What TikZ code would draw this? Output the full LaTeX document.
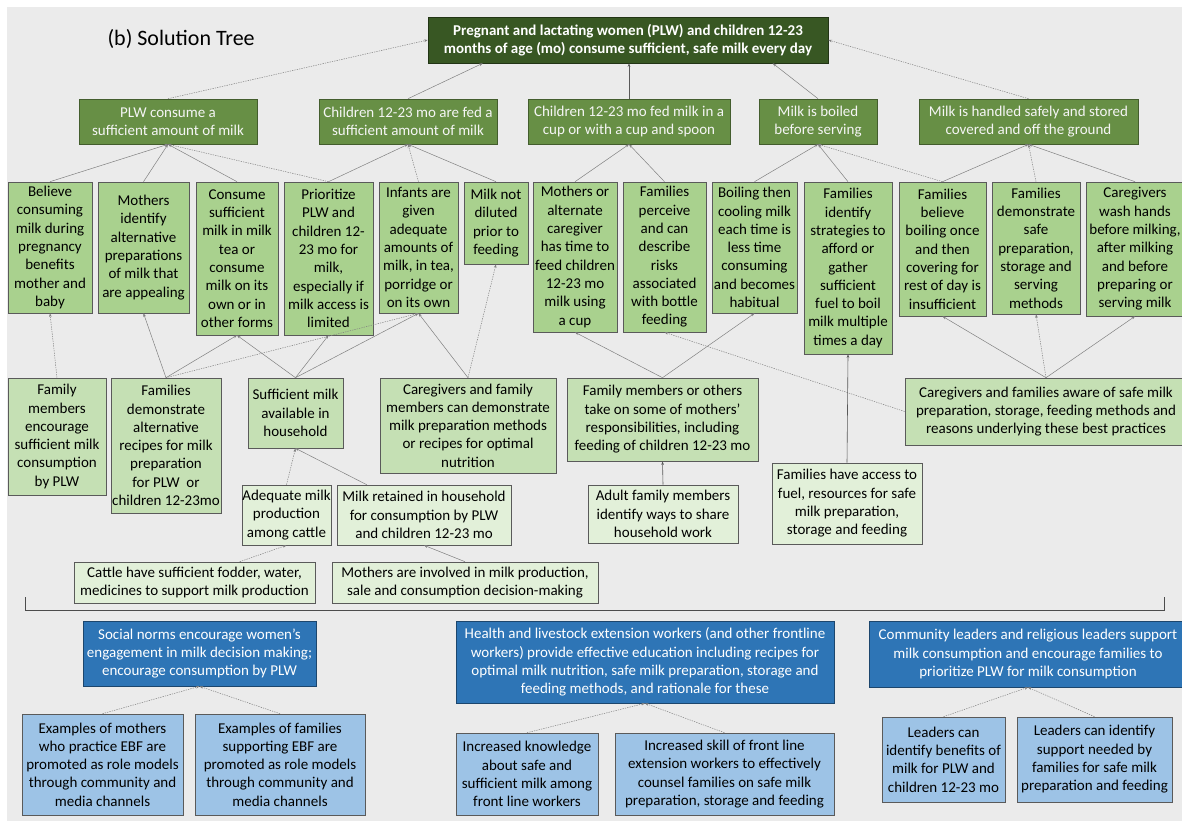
\documentclass[tikz,border=0pt]{standalone}
\usepackage{fontspec}
\setmainfont{Carlito}
\usetikzlibrary{arrows.meta,calc}

\definecolor{bg}{HTML}{EBEBEB}
\definecolor{goal}{HTML}{385723}
\definecolor{lvtwo}{HTML}{678F45}
\definecolor{lvthree}{HTML}{A9D18E}
\definecolor{lvfour}{HTML}{C5E0B4}
\definecolor{lvfive}{HTML}{E2F0D9}
\definecolor{bluedark}{HTML}{2E75B6}
\definecolor{bluelight}{HTML}{9DC3E6}
\definecolor{edge}{HTML}{5A5A5A}
\definecolor{wire}{HTML}{808080}

% box given by its corners (x1,y1)-(x2,y2), y measured downwards
\newcommand\bx[7]{%
  \pgfmathsetmacro\bxw{#4-#2}\pgfmathsetmacro\bxh{#5-#3}%
  \pgfmathsetmacro\bxcx{(#2+#4)/2}\pgfmathsetmacro\bxcy{(#3+#5)/2}%
  \node[#6, minimum width=\bxw pt, minimum height=\bxh pt] (#1) at (\bxcx,\bxcy) {#7};}

\tikzset{
  box/.style={draw=edge, line width=0.6pt, inner sep=0pt, align=center,
    font=\fontsize{15pt}{18.3pt}\selectfont, text=black},
  goalbox/.style={box, fill=goal, draw=goal!60!black, text=white,
    font=\bfseries\fontsize{15pt}{18.3pt}\selectfont},
  outcome/.style={box, fill=lvtwo, draw=lvtwo!65!black, text=white!96!black},
  cause/.style={box, fill=lvthree},
  subcause/.style={box, fill=lvfour},
  rootcause/.style={box, fill=lvfive},
  driver/.style={box, fill=bluedark, draw=bluedark!60!black, text=white},
  support/.style={box, fill=bluelight},
  link/.style={draw=wire, line width=0.5pt, -{Stealth[length=3.6pt,width=2.6pt]}},
  dlink/.style={link, dash pattern=on 1.3pt off 1.1pt},
  slink/.style={link, draw=black!65, line width=0.6pt},
}

\begin{document}
\begin{tikzpicture}[x=1pt,y=-1pt]
\useasboundingbox (0,0) rectangle (1182,821);
\clip (0,0) rectangle (1182,821);
\fill[white] (0,0) rectangle (1182,821);
\fill[bg] (7,7) rectangle (1182,821);

\node[anchor=base west, font=\fontsize{22pt}{26pt}\selectfont] (title) at (104,46) {(b) Solution Tree};

% goal
\bx{top}{428}{17}{828}{63}{goalbox}{Pregnant and lactating women (PLW) and children 12-23\\months of age (mo) consume sufficient, safe milk every day}

% outcomes
\bx{plw}{79}{99}{257}{144}{outcome}{PLW consume a\\sufficient amount of milk}
\bx{chf}{319}{99}{497}{144}{outcome}{Children 12-23 mo are fed a\\sufficient amount of milk}
\bx{chc}{528}{99}{730}{144}{outcome}{Children 12-23 mo fed milk in a\\cup or with a cup and spoon}
\bx{boil}{759}{99}{877}{144}{outcome}{Milk is boiled\\before serving}
\bx{hand}{919}{99}{1138}{144}{outcome}{Milk is handled safely and stored\\covered and off the ground}

% behaviours
\bx{bel}{8}{182}{92}{313}{cause}{Believe\\consuming\\milk during\\pregnancy\\benefits\\mother and\\baby}
\bx{mid}{98}{182}{189}{313}{cause}{Mothers\\identify\\alternative\\preparations\\of milk that\\are appealing}
\bx{con}{196}{182}{278}{335}{cause}{Consume\\sufficient\\milk in milk\\tea or\\consume\\milk on its\\own or in\\other forms}
\bx{pri}{284}{182}{373}{335}{cause}{Prioritize\\PLW and\\children 12-\\23 mo for\\milk,\\especially if\\milk access is\\limited}
\bx{inf}{379}{182}{458}{313}{cause}{Infants are\\given\\adequate\\amounts of\\milk, in tea,\\porridge or\\on its own}
\bx{dil}{464}{182}{528}{264}{cause}{Milk not\\diluted\\prior to\\feeding}
\bx{moa}{533}{182}{617}{332}{cause}{Mothers or\\alternate\\caregiver\\has time to\\feed children\\12-23 mo\\milk using\\a cup}
\bx{per}{623}{182}{706}{332}{cause}{Families\\perceive\\and can\\describe\\risks\\associated\\with bottle\\feeding}
\bx{bct}{712}{182}{797}{313}{cause}{Boiling then\\cooling milk\\each time is\\less time\\consuming\\and becomes\\habitual}
\bx{fid}{804}{182}{892}{354}{cause}{Families\\identify\\strategies to\\afford or\\gather\\sufficient\\fuel to boil\\milk multiple\\times a day}
\bx{fbe}{899}{182}{986}{316}{cause}{Families\\believe\\boiling once\\and then\\covering for\\rest of day is\\insufficient}
\bx{fdm}{992}{182}{1080}{314}{cause}{Families\\demonstrate\\safe\\preparation,\\storage and\\serving\\methods}
\bx{cwh}{1086}{182}{1184}{316}{cause}{Caregivers\\wash hands\\before milking,\\after milking\\and before\\preparing or\\serving milk}

% enabling conditions
\bx{fme}{8}{378}{106}{495}{subcause}{Family\\members\\encourage\\sufficient milk\\consumption\\by PLW}
\bx{fda}{111}{378}{221}{513}{subcause}{Families\\demonstrate\\alternative\\recipes for milk\\preparation\\for PLW~ or\\children 12-23mo}
\bx{suf}{248}{378}{343}{448}{subcause}{Sufficient milk\\available in\\household}
\bx{cgf}{380}{378}{556}{473}{subcause}{Caregivers and family\\members can demonstrate\\milk preparation methods\\or recipes for optimal\\nutrition}
\bx{fmo}{567}{378}{758}{461}{subcause}{Family members or others\\take on some of mothers’\\responsibilities, including\\feeding of children 12-23 mo}
\bx{cga}{905}{378}{1187}{445}{subcause}{Caregivers and families aware of safe milk\\preparation, storage, feeding methods and\\reasons underlying these best practices}

\bx{ade}{242}{485}{331}{545}{rootcause}{Adequate milk\\production\\among cattle}
\bx{mre}{337}{485}{511}{545}{rootcause}{Milk retained in household\\for consumption by PLW\\and children 12-23 mo}
\bx{adu}{588}{485}{738}{543}{rootcause}{Adult family members\\identify ways to share\\household work}
\bx{fac}{772}{463}{922}{544}{rootcause}{Families have access to\\fuel, resources for safe\\milk preparation,\\storage and feeding}
\bx{cat}{74}{562}{315}{603}{rootcause}{Cattle have sufficient fodder, water,\\medicines to support milk production}
\bx{min}{332}{562}{598}{603}{rootcause}{Mothers are involved in milk production,\\sale and consumption decision-making}

% bracket over the green tree
\coordinate (brl) at (25,597);
\coordinate (brr) at (1164,597);
\draw[black!70, line width=0.7pt] (brl) -- ++(0,13) -| (brr);

% structural drivers
\bx{soc}{83}{621}{316}{686}{driver}{Social norms encourage women’s\\engagement in milk decision making;\\encourage consumption by PLW}
\bx{exm}{22}{714}{183}{815}{support}{Examples of mothers\\who practice EBF are\\promoted as role models\\through community and\\media channels}
\bx{exf}{195}{714}{365}{815}{support}{Examples of families\\supporting EBF are\\promoted as role models\\through community and\\media channels}
\bx{hlw}{456}{621}{834}{703}{driver}{Health and livestock extension workers (and other frontline\\workers) provide effective education including recipes for\\optimal milk nutrition, safe milk preparation, storage and\\feeding methods, and rationale for these}
\bx{ikn}{456}{733}{598}{815}{support}{Increased knowledge\\about safe and\\sufficient milk among\\front line workers}
\bx{isk}{615}{733}{834}{815}{support}{Increased skill of front line\\extension workers to effectively\\counsel families on safe milk\\preparation, storage and feeding}
\bx{com}{869}{621}{1187}{687}{driver}{Community leaders and religious leaders support\\milk consumption and encourage families to\\prioritize PLW for milk consumption}
\bx{lben}{882}{717}{1005}{802}{support}{Leaders can\\identify benefits of\\milk for PLW and\\children 12-23 mo}
\bx{lsup}{1017}{717}{1172}{802}{support}{Leaders can identify\\support needed by\\families for safe milk\\preparation and feeding}

% outcomes to goal
\draw[dlink] (plw.north) -- (top.west);
\draw[link] (chf.north) -- ($(top.south west)+(55,0)$);
\draw[slink] (chc.north) -- (chc.north |- top.south);
\draw[link] (boil.north) -- ($(top.south west)+(345,0)$);
\draw[dlink] (hand.north) -- (top.east);

% behaviours to outcomes
\draw[link] (bel.north) -- (plw.south);
\draw[link] (mid.north) -- (plw.south);
\draw[link] (con.north) -- (plw.south);
\draw[dlink] (pri.north) -- (plw.south);
\draw[link] (pri.north) -- (chf.south);
\draw[dlink] (inf.north) -- (chf.south);
\draw[link] (dil.north) -- (chf.south);
\draw[link] (moa.north) -- (chc.south);
\draw[link] (per.north) -- (chc.south);
\draw[link] (bct.north) -- (boil.south);
\draw[link] (fid.north) -- (boil.south);
\draw[dlink] (fbe.north) -- (boil.south);
\draw[link] (fbe.north) -- (hand.south);
\draw[dlink] (fdm.north) -- (hand.south);
\draw[link] (cwh.north) -- (hand.south);

% enabling conditions to behaviours
\draw[dlink] (fme.north) -- (bel.south);
\draw[link] (fda.north) -- (mid.south);
\draw[link] (fda.north) -- (con.south);
\draw[dlink] (fda.north) -- (inf.south);
\draw[link] (suf.north) -- (con.south);
\draw[link] (suf.north) -- (pri.south);
\draw[link] (suf.north) -- (inf.south);
\draw[link] (cgf.north) -- (inf.south);
\draw[dlink] (cgf.north) -- (dil.south);
\draw[link] (fmo.north) -- (moa.south);
\draw[link] (fmo.north) -- (bct.south);
\draw[dlink] (cga.west) -- (per.south);
\draw[link] (cga.north) -- (fbe.south);
\draw[dlink] (cga.north) -- (fdm.south);
\draw[link] (cga.north) -- (cwh.south);
\draw[slink] (fac.north) -- (fid.south);

\draw[dlink] (ade.north) -- (suf.south);
\draw[link] ($(mre.north west)+(30,0)$) -- (suf.south);
\draw[slink] (adu.north) -- (fmo.south);
\draw[dlink] ($(cat.north west)+(166,0)$) -- (ade.south);
\draw[link] (min.north) -- (mre.south);

% supports to drivers
\draw[dlink] (exm.north) -- (soc.south);
\draw[dlink] (exf.north) -- (soc.south);
\draw[dlink] (ikn.north) -- (hlw.south);
\draw[dlink] (isk.north) -- (hlw.south);
\draw[dlink] (lben.north) -- (com.south);
\draw[dlink] (lsup.north) -- (com.south);
\end{tikzpicture}
\end{document}
